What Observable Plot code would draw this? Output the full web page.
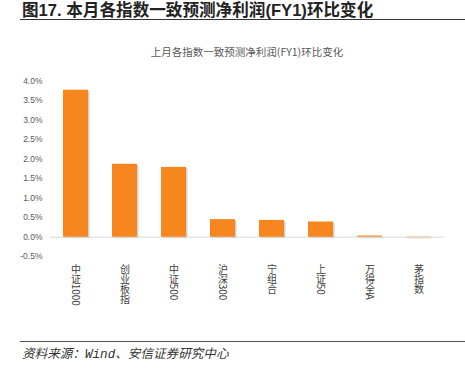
<!DOCTYPE html>
<html>
<head>
<meta charset="utf-8">
<script src="https://cdn.jsdelivr.net/npm/d3@7"></script>
<script src="https://cdn.jsdelivr.net/npm/@observablehq/plot@0.6"></script>
<style>
  html, body { margin: 0; padding: 0; background: #fff; }
  #wrap { position: relative; width: 465px; height: 368px; overflow: hidden; font-family: "Noto Sans CJK SC", "Liberation Sans", sans-serif; }
  #chart { position: absolute; left: 0; top: 0; }
  .title { position: absolute; left: 22px; top: 0.5px; font-family: "Liberation Sans", "Noto Sans CJK SC", sans-serif; font-size: 16.6px; font-weight: bold; color: #222; white-space: nowrap; line-height: 19px; }
  .rule-top { position: absolute; left: 20px; right: 0; top: 18.5px; height: 0; border-top: 1.5px solid #333; }
  .subtitle { position: absolute; left: 0; width: 494px; text-align: center; top: 44.5px; font-size: 10.5px; color: #595959; white-space: nowrap; line-height: 14px; }
  .rule-bot { position: absolute; left: 20px; right: 0; top: 341px; height: 0; border-top: 1.3px solid #555; }
  .source { position: absolute; left: 22px; top: 344.5px; font-size: 12.6px; font-style: italic; color: #333; white-space: nowrap; line-height: 16px; }
  .source .mono { font-family: "Liberation Mono", "DejaVu Sans Mono", monospace; }
</style>
</head>
<body>
<div id="wrap">
  <div class="title">图17. 本月各指数一致预测净利润(FY1)环比变化</div>
  <div class="rule-top"></div>
  <div class="subtitle">上月各指数一致预测净利润(FY1)环比变化</div>
  <div id="chart"></div>
  <div class="rule-bot"></div>
  <div class="source">资料来源：<span class="mono">Wind</span>、安信证券研究中心</div>
</div>
<script>
const categories = ["中证1000", "创业板指", "中证500", "沪深300", "宁组合", "上证50", "万得全A", "茅指数"];
const values = [3.77, 1.87, 1.79, 0.45, 0.43, 0.39, 0.03, -0.01];
const yTicks = [-0.5, 0, 0.5, 1.0, 1.5, 2.0, 2.5, 3.0, 3.5, 4.0];

const data = categories.map((c, i) => ({ name: c, value: values[i] }));

const svg = Plot.plot({
  width: 465,
  height: 368,
  marginTop: 80.7,
  marginBottom: 111.8,
  marginLeft: 50,
  marginRight: 21,
  style: { fontFamily: "'Liberation Sans', 'Noto Sans CJK SC', sans-serif", fontSize: "8.5px", background: "transparent", color: "#595959" },
  x: { domain: categories, paddingInner: 0.5, paddingOuter: 0.25, label: null },
  y: { domain: [-0.5, 4.0], label: null },
  marks: [
    Plot.barY(data, { x: "name", y: "value", fill: "#9a9a9a", fillOpacity: 0.45, dx: 1.5, dy: 1.5 }),
    Plot.ruleY([0], { stroke: "#d9d9d9", strokeWidth: 1 }),
    Plot.barY(data, { x: "name", y: "value", fill: "#F7861E" }),
    Plot.axisY({ ticks: yTicks, tickSize: 0, tickPadding: 8, tickFormat: d => d.toFixed(1) + "%", fill: "#595959", fontSize: 8.5 }),
    Plot.axisX({ tickSize: 0, tickPadding: 7, fill: "#404040", fontSize: 10, fontFamily: "'Noto Sans CJK SC', sans-serif" })
  ]
});

svg.querySelectorAll('g[aria-label="x-axis tick label"] text').forEach(t => {
  t.setAttribute("writing-mode", "vertical-rl");
  t.removeAttribute("dy");
  t.setAttribute("y", "0");
  t.setAttribute("text-anchor", "start");
});

document.getElementById("chart").appendChild(svg);
</script>
</body>
</html>
